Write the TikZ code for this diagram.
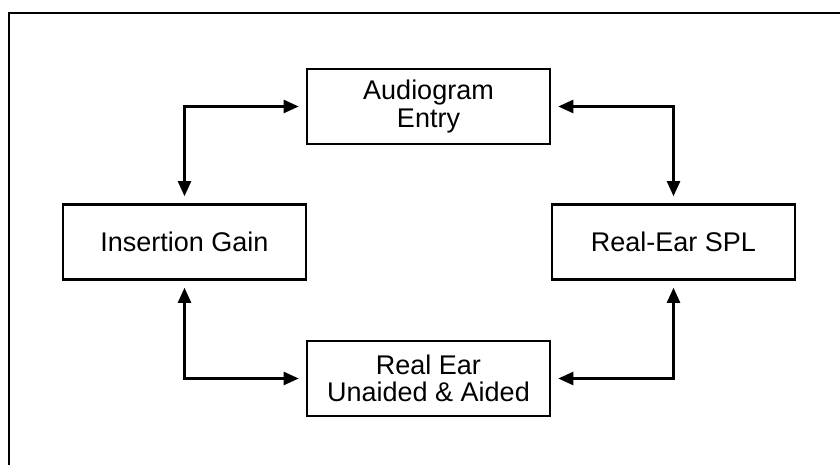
\documentclass[tikz,border=0pt]{standalone}
\usepackage{fontspec}
\setmainfont{Liberation Sans}
\usetikzlibrary{positioning, arrows.meta}

\begin{document}
\begin{tikzpicture}[
  x=1pt, y=1pt,
  every node/.style={draw, line width=2.6pt, minimum width=243pt, minimum height=75pt,
    align=center, font=\fontsize{27pt}{27.5pt}\selectfont, inner sep=0pt},
  link/.style={line width=2.4pt, {Triangle[length=15pt,width=13pt]}-{Triangle[length=15pt,width=13pt]},
    shorten <=7pt, shorten >=7pt}
]
  \useasboundingbox (0,0) rectangle (840,465);
  \draw[line width=2.8pt] (9,0) |- (840,452);

  \node (audio) at (428.5,358.5) {Audiogram\\Entry};
  \node (ins)   at (184.5,223)   {Insertion Gain};
  \node (spl)   at (673.5,223)   {Real-Ear SPL};
  \node (real)  at (428.5,86.5)  {Real Ear\\Unaided \& Aided};

  \draw[link] (audio.west) -| (ins.north);
  \draw[link] (audio.east) -| (spl.north);
  \draw[link] (real.west) -| (ins.south);
  \draw[link] (real.east) -| (spl.south);
\end{tikzpicture}
\end{document}
